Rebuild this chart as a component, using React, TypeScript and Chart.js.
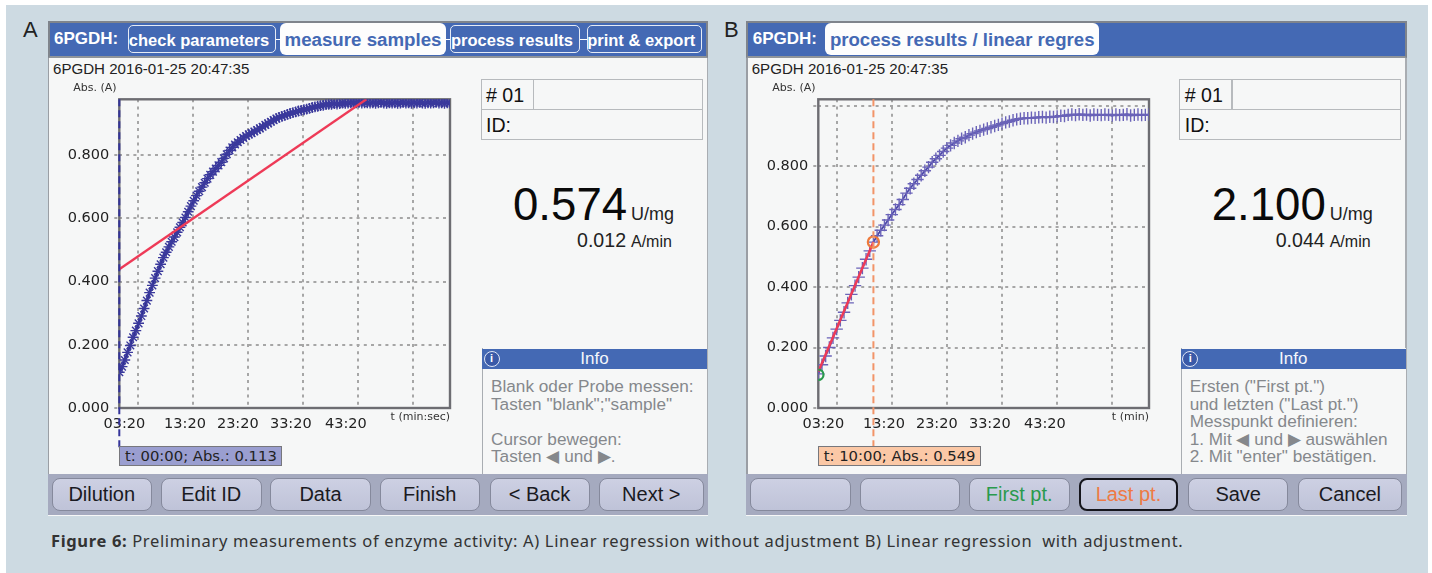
import React, { useEffect, useRef } from "react";
import { Chart, registerables } from "chart.js";

Chart.register(...registerables);

// Panel A: seconds since start and absorbance
const sampleSecondsA = [
  0, 30, 60, 90, 120, 150, 180, 210, 240, 270, 300, 330, 360, 390, 420, 450, 480, 510, 540, 570,
  600, 630, 660, 690, 720, 750, 780, 810, 840, 870, 900, 930, 960, 990, 1020, 1050, 1080, 1110, 1140, 1170,
  1200, 1230, 1260, 1290, 1320, 1350, 1380, 1410, 1440, 1470, 1500, 1530, 1560, 1590, 1620, 1650, 1680, 1710, 1740, 1770,
  1800, 1830, 1860, 1890, 1920, 1950, 1980, 2010, 2040, 2070, 2100, 2130, 2160, 2190, 2220, 2250, 2280, 2310, 2340, 2370,
  2400, 2430, 2460, 2490, 2520, 2550, 2580, 2610, 2640, 2670, 2700, 2730, 2760, 2790, 2820, 2850, 2880, 2910, 2940, 2970,
  3000, 3030, 3060, 3090, 3120, 3150, 3180, 3210, 3240, 3270, 3300, 3330, 3360, 3390, 3420, 3450, 3480, 3510, 3540, 3570, 3600,
];
const absorbanceA = [
  0.113, 0.131, 0.152, 0.176, 0.198, 0.224, 0.245, 0.268, 0.291, 0.315, 0.34, 0.365, 0.388, 0.411, 0.433, 0.455, 0.476, 0.493, 0.51, 0.526,
  0.541, 0.556, 0.572, 0.587, 0.603, 0.621, 0.639, 0.656, 0.672, 0.686, 0.699, 0.713, 0.726, 0.738, 0.748, 0.758, 0.768, 0.778, 0.79, 0.803,
  0.815, 0.825, 0.834, 0.841, 0.848, 0.855, 0.861, 0.866, 0.87, 0.875, 0.88, 0.885, 0.89, 0.896, 0.901, 0.906, 0.911, 0.916, 0.92, 0.923,
  0.926, 0.929, 0.932, 0.935, 0.937, 0.94, 0.942, 0.944, 0.946, 0.948, 0.951, 0.953, 0.955, 0.957, 0.958, 0.96, 0.961, 0.961, 0.963, 0.962,
  0.963, 0.965, 0.964, 0.965, 0.966, 0.965, 0.966, 0.967, 0.965, 0.966, 0.966, 0.965, 0.966, 0.964, 0.966, 0.967, 0.965, 0.964, 0.966, 0.965,
  0.966, 0.964, 0.965, 0.967, 0.965, 0.966, 0.964, 0.966, 0.965, 0.967, 0.965, 0.964, 0.966, 0.965, 0.966, 0.967, 0.965, 0.966, 0.964, 0.966, 0.965,
];

// Panel B: seconds since start and absorbance
const sampleSecondsB = [
  0, 40, 80, 120, 160, 200, 240, 280, 320, 360, 400, 440, 480, 520, 560, 600,
  640, 680, 720, 760, 800, 840, 880, 920, 960, 1000, 1040, 1080, 1120, 1160, 1200,
  1240, 1280, 1320, 1360, 1400, 1440, 1480, 1520, 1560, 1600, 1640, 1680, 1720, 1760, 1800,
  1840, 1880, 1920, 1960, 2000, 2040, 2080, 2120, 2160, 2200, 2240, 2280, 2320, 2360, 2400,
  2440, 2480, 2520, 2560, 2600, 2640, 2680, 2720, 2760, 2800, 2840, 2880, 2920, 2960, 3000,
  3040, 3080, 3120, 3160, 3200, 3240, 3280, 3320, 3360, 3400, 3440, 3480, 3520, 3560, 3600,
];
const absorbanceB = [
  0.113, 0.143, 0.172, 0.2, 0.232, 0.261, 0.29, 0.317, 0.348, 0.376, 0.405, 0.433, 0.463, 0.492, 0.52, 0.549,
  0.57, 0.588, 0.605, 0.622, 0.64, 0.657, 0.673, 0.69, 0.711, 0.727, 0.742, 0.756, 0.77, 0.785, 0.797,
  0.813, 0.825, 0.836, 0.849, 0.86, 0.869, 0.877, 0.884, 0.891, 0.896, 0.903, 0.908, 0.913, 0.917, 0.921,
  0.925, 0.929, 0.933, 0.937, 0.941, 0.945, 0.948, 0.952, 0.955, 0.957, 0.959, 0.959, 0.961, 0.96, 0.962,
  0.963, 0.961, 0.964, 0.963, 0.965, 0.967, 0.966, 0.97, 0.971, 0.969, 0.972, 0.97, 0.971, 0.968, 0.971,
  0.97, 0.969, 0.971, 0.97, 0.968, 0.971, 0.969, 0.97, 0.972, 0.968, 0.97, 0.971, 0.969, 0.97, 0.971,
];

const xGridSeconds = [200, 800, 1400, 2000, 2600, 3200];
const xLabelSeconds = [55, 715, 1290, 1867, 2467];
const xLabels = ["03:20", "13:20", "23:20", "33:20", "43:20"];
const xMaxSeconds = 3600;

const yTicksA = [0, 0.2, 0.4, 0.6, 0.8];
const yTicksB = [0, 0.2, 0.4, 0.6, 0.8, 1.0];
const yMaxA = 0.977;
const yMaxB = 1.0215;

const regressionSecondsA = [0, 2690];
const regressionAbsA = [0.439, 0.977];
const regressionSecondsB = [0, 600];
const regressionAbsB = [0.12, 0.549];
const firstPointB = { t: 0, abs: 0.11 };
const lastPointB = { t: 600, abs: 0.549 };

const SANS = '"Liberation Sans", Arial, sans-serif';
const DEJA = '"DejaVu Sans", sans-serif';
const BLUE = "#4469b4";

type PlotProps = {
  yMax: number;
  yTicks: number[];
  datasets: any[];
  cursorT: number;
  cursorColor: string;
  xCaption: string;
};

function Plot({ yMax, yTicks, datasets, cursorT, cursorColor, xCaption }: PlotProps) {
  const ref = useRef<HTMLCanvasElement | null>(null);
  useEffect(() => {
    if (!ref.current) return;
    const decorations = {
      id: "decorations",
      beforeDatasetsDraw(chart: any) {
        const { ctx, chartArea: a } = chart;
        ctx.save();
        ctx.strokeStyle = "#6d6d72";
        ctx.lineWidth = 2.4;
        ctx.strokeRect(a.left, a.top, a.right - a.left, a.bottom - a.top);
        ctx.restore();
      },
      afterDatasetsDraw(chart: any) {
        const { ctx, chartArea: a, scales, height } = chart;
        ctx.save();
        const cx = scales.x.getPixelForValue(cursorT);
        ctx.strokeStyle = cursorColor;
        ctx.lineWidth = 2;
        ctx.setLineDash([7, 4]);
        ctx.beginPath();
        ctx.moveTo(cx, a.top);
        ctx.lineTo(cx, height);
        ctx.stroke();
        ctx.setLineDash([]);
        ctx.fillStyle = "#333";
        ctx.font = `11px ${DEJA}`;
        ctx.textBaseline = "middle";
        ctx.textAlign = "right";
        ctx.fillText(xCaption, a.right, a.bottom + 9);
        ctx.textAlign = "left";
        ctx.fillText("Abs. (A)", a.left - 46, a.top - 11);
        ctx.restore();
      },
    };
    const chart = new Chart(ref.current, {
      type: "line",
      data: { datasets },
      plugins: [decorations],
      options: {
        animation: false,
        responsive: false,
        devicePixelRatio: 1,
        layout: { autoPadding: false, padding: { top: 24.3, right: 23, left: 0, bottom: 0 } },
        plugins: { legend: { display: false }, tooltip: { enabled: false } },
        scales: {
          x: {
            type: "linear",
            position: "bottom",
            min: 0,
            max: xMaxSeconds,
            afterBuildTicks: (s: any) => {
              s.ticks = xGridSeconds.map((v) => ({ value: v }));
            },
            ticks: { display: false },
            grid: { color: "#a6a6a6", lineWidth: 2, drawTicks: false },
            border: { display: false, dash: [3, 4.2] },
          },
          x2: {
            type: "linear",
            position: "bottom",
            min: 0,
            max: xMaxSeconds,
            afterBuildTicks: (s: any) => {
              s.ticks = xLabelSeconds.map((v) => ({ value: v }));
            },
            afterFit: (s: any) => {
              s.height = 42;
            },
            ticks: {
              autoSkip: false,
              maxRotation: 0,
              padding: 8,
              color: "#222",
              font: { family: DEJA, size: 14.5 },
              callback: (v: any) => xLabels[xLabelSeconds.indexOf(Number(v))] ?? "",
            },
            grid: { display: false, drawTicks: false },
            border: { display: false },
          },
          y: {
            type: "linear",
            min: 0,
            max: yMax,
            afterBuildTicks: (s: any) => {
              s.ticks = yTicks.map((v) => ({ value: v }));
            },
            afterFit: (s: any) => {
              s.width = 71.3;
            },
            ticks: {
              autoSkip: false,
              padding: 5,
              color: "#222",
              font: { family: DEJA, size: 14.5 },
              callback: (v: any) => (Number(v) < 0.99 ? Number(v).toFixed(3) : ""),
            },
            grid: {
              color: "#a6a6a6",
              lineWidth: 2,
              tickLength: 5,
              tickColor: "#a6a6a6",
              tickWidth: 2,
              tickBorderDash: [3, 4.2],
            },
            border: { display: false, dash: [3, 4.2] },
          },
        },
      } as any,
    });
    return () => chart.destroy();
  }, []);
  return (
    <canvas
      ref={ref}
      width={425}
      height={375}
      style={{ position: "absolute", left: 48, top: 75, width: 425, height: 375 }}
    />
  );
}

const pairs = (xs: number[], ys: number[]) => xs.map((x, i) => ({ x, y: ys[i] }));

const datasetsA = [
  {
    data: pairs(regressionSecondsA, regressionAbsA),
    borderColor: "#ee3a57",
    borderWidth: 2.4,
    pointRadius: 0,
  },
  {
    data: pairs(sampleSecondsA, absorbanceA),
    borderColor: "#2f2f90",
    borderWidth: 2,
    pointStyle: "star",
    pointRadius: 5.4,
    pointBorderWidth: 1.4,
    pointBorderColor: "#3a399c",
  },
];

const datasetsB = [
  {
    data: [{ x: lastPointB.t, y: lastPointB.abs }],
    showLine: false,
    pointStyle: "circle",
    pointRadius: 5.6,
    pointBorderWidth: 2.2,
    pointBorderColor: "#ee7a3c",
    pointBackgroundColor: "rgba(0,0,0,0)",
  },
  {
    data: [{ x: firstPointB.t, y: firstPointB.abs }],
    showLine: false,
    pointStyle: "circle",
    pointRadius: 5.2,
    pointBorderWidth: 2.2,
    pointBorderColor: "#2a9a4d",
    pointBackgroundColor: "rgba(0,0,0,0)",
  },
  {
    data: pairs(regressionSecondsB, regressionAbsB),
    borderColor: "#ee3a57",
    borderWidth: 2.4,
    pointRadius: 0,
  },
  {
    data: pairs(sampleSecondsB, absorbanceB),
    showLine: true,
    borderColor: "#4a45a8",
    borderWidth: 1.8,
    pointStyle: "cross",
    pointRadius: 6.2,
    pointBorderWidth: 1.4,
    pointBorderColor: "#6a63b8",
  },
];

function T({
  x, y, size, text, color = "#111", bold = false, family = SANS, w, align = "left",
}: {
  x: number; y: number; size: number; text: string; color?: string; bold?: boolean;
  family?: string; w?: number; align?: "left" | "center" | "right";
}) {
  return (
    <div
      style={{
        position: "absolute", left: x, top: y - 15, height: 30, lineHeight: "30px", width: w,
        fontSize: size, color, fontWeight: bold ? 700 : 400, fontFamily: family,
        textAlign: align, whiteSpace: "pre",
      }}
    >
      {text}
    </div>
  );
}

function Box({ x, y, w, h, style }: { x: number; y: number; w: number; h: number; style?: React.CSSProperties }) {
  return <div style={{ position: "absolute", left: x, top: y, width: w, height: h, boxSizing: "border-box", ...style }} />;
}

type Tab = { x: number; w: number; text: string; active?: boolean; size: number };
type Btn = { x: number; w: number; text: string; color?: string; focus?: boolean };

const tabsA: Tab[] = [
  { x: 128, w: 148, text: "check parameters", size: 16.5 },
  { x: 280, w: 166, text: "measure samples", active: true, size: 18.7 },
  { x: 450, w: 130, text: "process results", size: 16.5 },
  { x: 587, w: 114.5, text: "print & export", size: 16.5 },
];
const tabsB: Tab[] = [{ x: 126.5, w: 274, text: "process results / linear regres", active: true, size: 18.6 }];

const btnX = [51.5, 161, 270, 380, 489.5, 599];
const btnW = [100.5, 100.5, 101, 99.5, 100, 104.5];
const btnsA: Btn[] = ["Dilution", "Edit ID", "Data", "Finish", "< Back", "Next >"].map((text, i) => ({
  x: btnX[i], w: btnW[i], text,
}));
const btnsB: Btn[] = [
  { x: btnX[0], w: btnW[0], text: "" },
  { x: btnX[1], w: btnW[1], text: "" },
  { x: btnX[2], w: btnW[2], text: "First pt.", color: "#2a9a4d" },
  { x: btnX[3], w: btnW[3], text: "Last pt.", color: "#ee7a45", focus: true },
  { x: btnX[4], w: btnW[4], text: "Save" },
  { x: btnX[5], w: btnW[5], text: "Cancel" },
];

const infoA = ["Blank oder Probe messen:", 'Tasten "blank";"sample"', "", "Cursor bewegen:", "Tasten \u25C0 und \u25B6."];
const infoB = ['Ersten ("First pt.")', 'und letzten ("Last pt.")', "Messpunkt definieren:", "1. Mit \u25C0 und \u25B6 ausw\u00E4hlen", '2. Mit "enter" best\u00E4tigen.'];

function Screen({
  dx, tabs, btns, info, value, rate, cursorText, cursorFill, plot,
}: {
  dx: number; tabs: Tab[]; btns: Btn[]; info: string[]; value: string; rate: string;
  cursorText: string; cursorFill: string; plot: React.ReactNode;
}) {
  return (
    <div style={{ position: "absolute", left: dx, top: 0, width: 720, height: 573 }}>
      <Box x={47.5} y={20.5} w={660.5} h={495} style={{ background: "#f6f7f7" }} />
      <Box x={47.5} y={20.5} w={660.5} h={37.5} style={{ background: BLUE, borderTop: "2.5px solid #7f848c", borderBottom: "2.5px solid #8f949a", borderLeft: "2px solid #7f848c", borderRight: "2px solid #7f848c" }} />
      <Box x={47.5} y={58} w={1.5} h={416} style={{ background: "#9a9ea4" }} />
      <Box x={706.5} y={58} w={1.5} h={416} style={{ background: "#a9adb2" }} />
      <T x={54} y={39} size={17} bold color="#fff" text="6PGDH:" />
      {tabs.length > 1 && tabs.slice(0, -1).map((t, i) => (
        <Box key={i} x={t.x + t.w} y={38.5} w={tabs[i + 1].x - t.x - t.w} h={1.5} style={{ background: "#fff" }} />
      ))}
      {tabs.map((t, i) => (
        <div key={i}>
          <Box
            x={t.x}
            y={t.active ? 23 : 25}
            w={t.w}
            h={t.active ? 32 : 28}
            style={t.active
              ? { background: "#fdfdfd", borderRadius: 6 }
              : { border: "1.6px solid #e6ebf5", borderRadius: 5 }}
          />
          <T x={t.active ? t.x : t.x - 3} w={t.w} align="center" y={39.5} size={t.size} bold color={t.active ? BLUE : "#fff"} text={t.text} />
        </div>
      ))}

      <T x={53} y={69} size={15.1} color="#222" text="6PGDH 2016-01-25 20:47:35" />

      <Box x={480.5} y={79} w={222} h={60.5} style={{ border: "1.5px solid #b7babd" }} />
      <Box x={480.5} y={108.5} w={222} h={1.5} style={{ background: "#b7babd" }} />
      <Box x={532.5} y={79} w={1.5} h={30} style={{ background: "#b7babd" }} />
      <T x={486} y={95} size={19.6} color="#111" text="# 01" />
      <T x={486} y={125} size={19.6} color="#111" text="ID:" />

      <T x={513} y={205} size={45.6} color="#0a0a0a" text={value} />
      <T x={631} y={214} size={18} color="#222" text="U/mg" />
      <T x={577} y={240} size={19.6} color="#222" text={rate} />
      <T x={631} y={242} size={16} color="#222" text="A/min" />

      <Box x={482} y={348} w={225} h={126} style={{ borderLeft: "1.5px solid #a9adb2", background: "#f6f7f7" }} />
      <Box x={482} y={348.5} w={225} h={20} style={{ background: BLUE }} />
      <div style={{ position: "absolute", left: 483.5, top: 350.5, width: 16, height: 16, borderRadius: 8, background: "#3a5aa8", border: "1.5px solid #dfe6f5", boxSizing: "border-box", color: "#fff", fontFamily: SANS, fontSize: 11, fontWeight: 700, lineHeight: "13px", textAlign: "center" }}>i</div>
      <T x={482} w={225} align="center" y={358.5} size={17} color="#f4f6fb" text="Info" />
      {info.map((line, i) => (
        <T key={i} x={491} y={386 + i * 17.6} size={17.2} color="#85888c" text={line} />
      ))}

      <Box x={47.5} y={473.5} w={660.5} h={41.5} style={{ background: "#a5aabf" }} />
      {btns.map((b, i) => (
        <div key={i}>
          <Box
            x={b.x}
            y={477.5}
            w={b.w}
            h={33}
            style={{
              borderRadius: 8,
              background: "linear-gradient(#cdd0e3, #bfc3d8)",
              border: b.focus ? "2.5px solid #15151c" : "1.5px solid #85899c",
            }}
          />
          <T x={b.x} w={b.w} y={494} align="center" size={20} color={b.color ?? "#1a1a22"} text={b.text} />
        </div>
      ))}

      {plot}

      <div style={{ position: "absolute", left: 119, top: 445.5, height: 20, lineHeight: "18px", width: 163, boxSizing: "border-box", background: cursorFill, border: "1.5px solid #77777c", fontFamily: DEJA, fontSize: 14.8, color: "#222", paddingLeft: 5, whiteSpace: "pre" }}>
        {cursorText}
      </div>
    </div>
  );
}

export default function App() {
  return (
    <div style={{ position: "absolute", left: 0, top: 0, width: 1432, height: 573, overflow: "hidden", background: "#fff" }}>
      <div style={{ position: "absolute", inset: 0, filter: "blur(0.45px)" }}>
        <Box x={6} y={5} w={1422} h={568} style={{ background: "#cddae2" }} />
        <T x={23} y={30} size={22} color="#222" text="A" />
        <T x={724} y={30} size={22} color="#222" text="B" />
        <Screen
          dx={0}
          tabs={tabsA}
          btns={btnsA}
          info={infoA}
          value="0.574"
          rate="0.012"
          cursorText="t: 00:00; Abs.: 0.113"
          cursorFill="#9a9ed0"
          plot={<Plot yMax={yMaxA} yTicks={yTicksA} datasets={datasetsA} cursorT={0} cursorColor="#34349a" xCaption="t (min:sec)" />}
        />
        <Screen
          dx={698.7}
          tabs={tabsB}
          btns={btnsB}
          info={infoB}
          value="2.100"
          rate="0.044"
          cursorText="t: 10:00; Abs.: 0.549"
          cursorFill="#fbc8a6"
          plot={<Plot yMax={yMaxB} yTicks={yTicksB} datasets={datasetsB} cursorT={600} cursorColor="#f29468" xCaption="t (min)" />}
        />
        <div style={{ position: "absolute", left: 51, top: 530, height: 22, lineHeight: "22px", fontFamily: '"Noto Sans", sans-serif', fontSize: 16.5, color: "#333", whiteSpace: "pre", letterSpacing: 0.65 }}>
          <b>Figure 6:</b>{" Preliminary measurements of enzyme activity: A) Linear regression without adjustment B) Linear regression  with adjustment."}
        </div>
      </div>
    </div>
  );
}
